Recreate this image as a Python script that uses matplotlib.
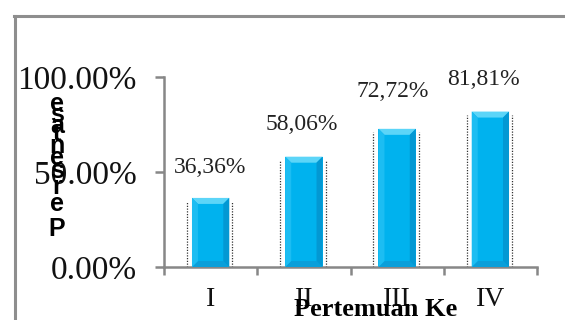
import matplotlib
matplotlib.use("Agg")
import matplotlib.pyplot as plt
from matplotlib.patches import Polygon
from matplotlib.lines import Line2D

# ---- data ----
categories = ["I", "II", "III", "IV"]
values = [36.36, 58.06, 72.72, 81.81]          # percent
value_labels = ["36,36%", "58,06%", "72,72%", "81,81%"]
y_ticks = [0.0, 0.5, 1.0]
y_tick_labels = ["0.00%", "50.00%", "100.00%"]
x_title = "Pertemuan Ke"
y_title = "Persentase"

# ---- layout / style ----
W, H, DPI = 565, 320, 100
bar_color = "#00B2EE"
axis_color = "#878787"
frame_color = "#8E8E8E"
# offsets (px) of the value labels above each bar top
label_dx = [-1, -2, -4, -7]
label_dy = [30, 32, 37, 32]
# vertical centres (px from top) of the stacked y-title letters, bottom letter first
ytitle_centers = [229, 204, 187, 171, 158, 146, 134, 126, 115, 104]

plt.rcParams["font.family"] = ["Liberation Serif", "DejaVu Serif"]

fig = plt.figure(figsize=(W / DPI, H / DPI), dpi=DPI)
ax_left, ax_right, ax_bottom, ax_top = 164, 537, 267, 77
ax = fig.add_axes([ax_left / W, (H - ax_bottom) / H,
                   (ax_right - ax_left) / W, (ax_bottom - ax_top) / H])

x = list(range(len(categories)))
fracs = [v / 100.0 for v in values]
bar_w = 0.4
bars = ax.bar(x, fracs, width=bar_w, color=bar_color, zorder=2, linewidth=0)

ax.set_xlim(-0.5, len(categories) - 0.5)
ax.set_ylim(0, 1.0)

# pixel -> data conversions for the bevel and shadow decorations
px_x = (len(categories)) / (ax_right - ax_left)
px_y = 1.0 / (ax_bottom - ax_top)
bev = 6
dx, dy = bev * px_x, bev * px_y

for rect in bars:
    x0 = rect.get_x()
    x1 = x0 + rect.get_width()
    h = rect.get_height()
    faces = [
        ([(x0, h), (x1, h), (x1 - dx, h - dy), (x0 + dx, h - dy)], "#5CD5F8"),
        ([(x0, 0), (x1, 0), (x1 - dx, dy), (x0 + dx, dy)], "#0A9FDA"),
        ([(x0, 0), (x0 + dx, dy), (x0 + dx, h - dy), (x0, h)], "#1CBDF2"),
        ([(x1, 0), (x1 - dx, dy), (x1 - dx, h - dy), (x1, h)], "#0398D3"),
    ]
    for pts, col in faces:
        ax.add_patch(Polygon(pts, closed=True, facecolor=col,
                             edgecolor="none", zorder=3))
    # dotted shadow lines on both sides of the bar
    for xs in (x0 - 5 * px_x, x1 + 3 * px_x):
        ax.plot([xs, xs], [0, h - 3 * px_y], color="#333333", lw=0.9,
                linestyle=(0, (1, 1.2)), zorder=1)

# value labels
for xi, fr, lab, ddx, ddy in zip(x, fracs, value_labels, label_dx, label_dy):
    ax.annotate(lab, (xi, fr), xytext=(ddx * 0.72, ddy * 0.72),
                textcoords="offset points", ha="center", va="center",
                fontsize=17, color="#222222", family="Liberation Serif")

# axes styling
for side in ("top", "right"):
    ax.spines[side].set_visible(False)
for side in ("left", "bottom"):
    ax.spines[side].set_color(axis_color)
    ax.spines[side].set_linewidth(1.8)

ax.set_yticks(y_ticks)
ax.set_yticklabels(y_tick_labels)
ax.tick_params(axis="y", direction="out", length=6.5, width=1.8,
               color=axis_color, pad=13, labelsize=24)

ax.set_xticks([i - 0.5 for i in range(len(categories) + 1)])
ax.set_xticklabels([])
ax.set_xticks(x, minor=True)
ax.set_xticklabels(categories, minor=True)
ax.tick_params(axis="x", which="major", direction="out", length=6,
               width=1.8, color=axis_color)
ax.tick_params(axis="x", which="minor", length=0, pad=14.5, labelsize=20)
for t in ax.get_yticklabels() + ax.get_xticklabels(minor=True):
    t.set_color("#111111")

# x title
fig.text(376 / W, 4 / H, x_title, ha="center", va="baseline",
         fontsize=19, fontweight="bold", family="Liberation Serif")

# y title: upright letters stacked bottom-to-top
for ch, cy in zip(y_title, ytitle_centers):
    fig.text(57 / W, 1 - cy / H, ch, ha="center", va="center",
             fontsize=18, fontweight="bold", family="Liberation Sans")

# outer chart frame (left and top edges)
fig.add_artist(Line2D([14.5 / W, 14.5 / W], [0, 1 - 15.5 / H],
                      transform=fig.transFigure, color=frame_color, lw=2.2))
fig.add_artist(Line2D([13.5 / W, 1], [1 - 15.5 / H, 1 - 15.5 / H],
                      transform=fig.transFigure, color=frame_color, lw=2.2))

fig.savefig("out.png", dpi=DPI)
